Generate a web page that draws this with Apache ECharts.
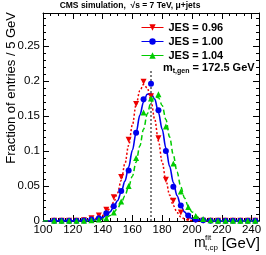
<!DOCTYPE html>
<html>
<head>
<meta charset="utf-8">
<script src="https://cdn.jsdelivr.net/npm/echarts@6/dist/echarts.min.js"></script>
<style>
html,body{margin:0;padding:0;background:#fff;}
#chart{width:266px;height:255px;}
</style>
</head>
<body>
<div id="chart"></div>
<script>
// ---- data ----
const binCenters = [107.5,112.5,117.5,122.5,127.5,132.5,137.5,142.5,147.5,152.5,157.5,162.5,167.5,172.5,177.5,182.5,187.5,192.5,197.5,202.5,207.5,212.5,217.5,222.5,227.5,232.5,237.5,242.5];
const jes096 = [0.0002,0.0002,0.0003,0.0005,0.001,0.004,0.008,0.016,0.034,0.063,0.116,0.167,0.199,0.178,0.118,0.059,0.029,0.012,0.004,0.001,0.0005,0.0003,0.0003,0.0003,0.0002,0.0002,0.0002,0.0002];
const jes100 = [0.0003,0.0003,0.0003,0.0004,0.0006,0.002,0.004,0.011,0.021,0.043,0.072,0.126,0.174,0.196,0.158,0.100,0.049,0.022,0.008,0.002,0.001,0.0005,0.0003,0.0003,0.0003,0.0003,0.0003,0.0003];
const jes104 = [0.0002,0.0002,0.0002,0.0003,0.0005,0.001,0.002,0.004,0.012,0.028,0.050,0.090,0.155,0.175,0.181,0.135,0.082,0.042,0.020,0.007,0.003,0.001,0.0005,0.0003,0.0003,0.0003,0.0003,0.0003];

const curveX = [100,125,130,135,140,142.5,145,147.5,150,152.5,155,157.5,160,162.5,165,167.5,170,172.5,175,177.5,180,182.5,185,187.5,190,192.5,195,197.5,200,205,210,220,245];
const fit096 = [0,0.0004,0.0012,0.0035,0.008,0.012,0.018,0.027,0.040,0.058,0.082,0.108,0.137,0.166,0.186,0.195,0.190,0.172,0.145,0.114,0.084,0.058,0.037,0.022,0.012,0.006,0.003,0.0013,0.0006,0.0002,0.0001,0,0];
const fit100 = [0,0.0002,0.0006,0.0018,0.005,0.008,0.013,0.020,0.029,0.041,0.057,0.077,0.101,0.126,0.151,0.170,0.181,0.182,0.174,0.155,0.131,0.104,0.078,0.055,0.036,0.022,0.013,0.007,0.0035,0.001,0.0003,0.0001,0];
const fit104 = [0,0.0001,0.0003,0.001,0.003,0.005,0.008,0.012,0.018,0.026,0.036,0.049,0.064,0.084,0.107,0.131,0.153,0.170,0.178,0.176,0.165,0.145,0.120,0.094,0.070,0.049,0.033,0.021,0.013,0.0045,0.0014,0.0002,0];

const mGen = [[172.5,0],[172.5,0.215]];
const xTicks = {min:100, max:245, interval:20};
const yTicks = {min:0, max:0.297, interval:0.05};
const names = ['JES = 0.96','JES = 1.00','JES = 1.04'];

const RED='#ee0000', BLUE='#0000ee', GREEN='#00cc00';
const FONT='"Liberation Sans", Arial, sans-serif';

function pairs(xs, ys){ return xs.map((x,i)=>[x, ys[i]]); }

const chart = echarts.init(document.getElementById('chart'), null, {renderer:'canvas'});

const axisCommon = {
  type:'value',
  axisLine:{show:true, onZero:false, lineStyle:{color:'#000', width:1}},
  axisTick:{show:true, inside:true, length:6, lineStyle:{color:'#000'}},
  minorTick:{show:true, length:3, lineStyle:{color:'#000'}},
  splitLine:{show:false},
  minorSplitLine:{show:false}
};

function pointSeries(name, ys, color, symbol, rot){
  return {
    name:name, type:'line', data:pairs(binCenters, ys),
    symbol:symbol, symbolSize:6, symbolRotate:rot, showAllSymbol:true,
    lineStyle:{width:0, color:color}, itemStyle:{color:color},
    z:5, xAxisIndex:0, yAxisIndex:0
  };
}
function fitSeries(name, ys, color, type, width){
  return {
    name:name, type:'line', data:pairs(curveX, ys), smooth:0.35, smoothMonotone:'x',
    symbol:'none', lineStyle:{color:color, type:type, width:width}, z:3,
    xAxisIndex:0, yAxisIndex:0
  };
}

chart.setOption({
  animation:false,
  grid:{left:43, right:7, top:13, bottom:34, containLabel:false},
  xAxis:[
    Object.assign({}, axisCommon, {position:'bottom', min:xTicks.min, max:xTicks.max, interval:xTicks.interval,
      minorTick:{show:true, splitNumber:4, length:3, lineStyle:{color:'#000'}},
      axisLabel:{show:true, color:'#000', fontSize:11.5, fontFamily:FONT, margin:3, showMaxLabel:false}}),
    Object.assign({}, axisCommon, {position:'top', min:xTicks.min, max:xTicks.max, interval:xTicks.interval,
      minorTick:{show:true, splitNumber:4, length:3, lineStyle:{color:'#000'}},
      axisLabel:{show:false}})
  ],
  yAxis:[
    Object.assign({}, axisCommon, {position:'left', min:yTicks.min, max:yTicks.max, interval:yTicks.interval,
      minorTick:{show:true, splitNumber:5, length:3, lineStyle:{color:'#000'}},
      axisLabel:{show:true, color:'#000', fontSize:11.5, fontFamily:FONT, margin:3, showMaxLabel:false,
        formatter:function(v){ return String(parseFloat(v.toFixed(3))); }}}),
    Object.assign({}, axisCommon, {position:'right', min:yTicks.min, max:yTicks.max, interval:yTicks.interval,
      minorTick:{show:true, splitNumber:5, length:3, lineStyle:{color:'#000'}},
      axisLabel:{show:false}})
  ],
  legend:{
    data:names, orient:'vertical', left:136, top:17, itemWidth:22, itemHeight:8, itemGap:3,
    lineStyle:{width:1, type:'solid', opacity:1},
    textStyle:{color:'#000', fontSize:11, fontWeight:'bold', fontFamily:FONT},
    selectedMode:false
  },
  series:[
    fitSeries('fit096', fit096, RED, [2,2], 1.5),
    fitSeries('fit100', fit100, BLUE, 'solid', 1.6),
    fitSeries('fit104', fit104, GREEN, [5,3], 1.5),
    {name:'mgen', type:'line', data:mGen, symbol:'none', lineStyle:{color:'#000', type:[2,2], width:1}, z:2},
    pointSeries(names[0], jes096, RED, 'triangle', 180),
    pointSeries(names[1], jes100, BLUE, 'circle', 0),
    pointSeries(names[2], jes104, GREEN, 'triangle', 0)
  ],
  graphic:[
    {type:'text', x:130, y:6, style:{text:'CMS simulation,  \u221As = 7 TeV, \u03BC+jets', font:'bold 8.5px '+FONT, fill:'#000', align:'center', verticalAlign:'middle'}},
    {type:'text', x:11, y:12, rotation:Math.PI/2, style:{text:'Fraction of entries / 5 GeV', font:'13px '+FONT, fill:'#000', align:'right', verticalAlign:'middle'}},
    {type:'text', x:194, y:243.5, style:{text:'m', font:'14px '+FONT, fill:'#000', align:'left', verticalAlign:'middle'}},
    {type:'text', x:205, y:237.5, style:{text:'fit', font:'8px '+FONT, fill:'#000', align:'left', verticalAlign:'middle'}},
    {type:'text', x:205, y:248, style:{text:'t,cp', font:'8px '+FONT, fill:'#000', align:'left', verticalAlign:'middle'}},
    {type:'text', x:260, y:243.5, style:{text:'[GeV]', font:'15px '+FONT, fill:'#000', align:'right', verticalAlign:'middle'}},
    {type:'text', x:163, y:67.5, style:{
      text:'{a|m}{s|t,gen}{a| = 172.5 GeV}',
      rich:{
        a:{font:'bold 11px '+FONT, fill:'#000', lineHeight:14, verticalAlign:'middle'},
        s:{font:'bold 7px '+FONT, fill:'#000', lineHeight:6, verticalAlign:'bottom'}
      },
      align:'left', verticalAlign:'middle'}}
  ]
});
</script>
</body>
</html>
